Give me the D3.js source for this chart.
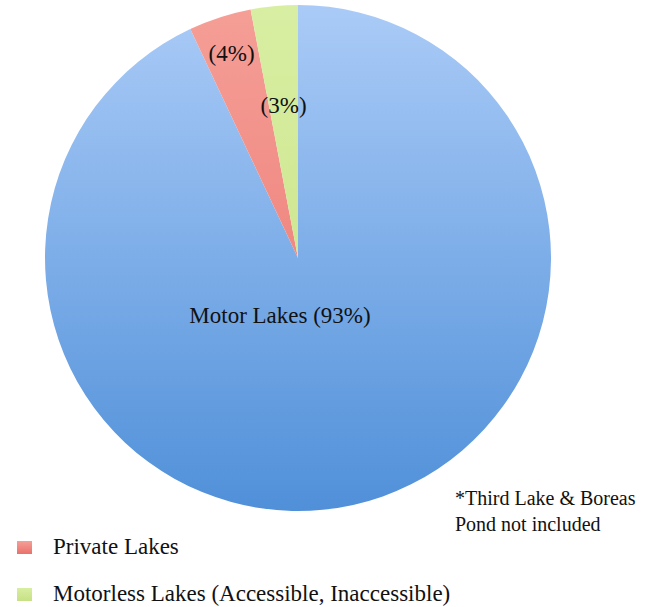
<!DOCTYPE html>
<html>
<head>
<meta charset="utf-8">
<script src="https://cdn.jsdelivr.net/npm/d3@7/dist/d3.min.js"></script>
<style>
  html, body { margin: 0; padding: 0; background: #ffffff; }
  svg { display: block; }
  text { font-family: "Liberation Serif", "Times New Roman", serif; fill: #111; }
</style>
</head>
<body>
<svg id="chart" width="654" height="607"></svg>
<script>
// Lake categories and their share of the total (percent)
const categories = ["Motor Lakes", "Private Lakes", "Motorless Lakes (Accessible, Inaccessible)"];
const shares = [93, 4, 3];
const sliceLabels = ["Motor Lakes (93%)", "(4%)", "(3%)"];
const legendItems = ["Private Lakes", "Motorless Lakes (Accessible, Inaccessible)"];
const noteLines = ["*Third Lake & Boreas", "Pond not included"];

// Top and bottom colours of each slice's vertical gradient
const gradTop = ["#aacbf7", "#f59f97", "#d8eea2"];
const gradBottom = ["#5090d9", "#e9716b", "#c6e184"];

const svg = d3.select("#chart");
const cx = 298, cy = 258, radius = 253;

const defs = svg.append("defs");
categories.forEach((c, i) => {
  const g = defs.append("linearGradient")
    .attr("id", "grad" + i)
    .attr("gradientUnits", "userSpaceOnUse")
    .attr("x1", 0).attr("y1", -radius)
    .attr("x2", 0).attr("y2", radius);
  g.append("stop").attr("offset", "0%").attr("stop-color", gradTop[i]);
  g.append("stop").attr("offset", "100%").attr("stop-color", gradBottom[i]);
});
// legend swatch gradients
[1, 2].forEach(i => {
  const g = defs.append("linearGradient")
    .attr("id", "sw" + i).attr("x1", 0).attr("y1", 0).attr("x2", 0).attr("y2", 1);
  g.append("stop").attr("offset", "0%").attr("stop-color", gradTop[i]);
  g.append("stop").attr("offset", "100%").attr("stop-color", gradBottom[i]);
});

const pie = d3.pie().sort(null).value(d => d)
  .startAngle(0).endAngle(2 * Math.PI);
const arcs = pie(shares);
const arc = d3.arc().innerRadius(0).outerRadius(radius);

const g = svg.append("g").attr("transform", `translate(${cx},${cy})`);

g.selectAll("path.slice")
  .data(arcs)
  .join("path")
  .attr("class", "slice")
  .attr("d", arc)
  .attr("fill", (d, i) => `url(#grad${i})`);

// slice labels: the two thin slices are labelled along their bisector,
// the large slice just below the pie centre
const labelRadius = [0, 215, 153];
function labelXY(d, i) {
  if (i === 0) return [-18, 57];
  const r = labelRadius[i];
  return d3.arc().innerRadius(r).outerRadius(r).centroid(d);
}
g.selectAll("text.slabel")
  .data(arcs)
  .join("text")
  .attr("class", "slabel")
  .attr("text-anchor", "middle")
  .attr("dominant-baseline", "central")
  .attr("font-size", 23)
  .attr("x", (d, i) => labelXY(d, i)[0])
  .attr("y", (d, i) => labelXY(d, i)[1])
  .text((d, i) => sliceLabels[i]);

// footnote
svg.append("text")
  .attr("x", 455).attr("y", 505)
  .attr("font-size", 20)
  .selectAll("tspan")
  .data(noteLines)
  .join("tspan")
  .attr("x", 455)
  .attr("dy", (d, i) => i === 0 ? 0 : 26)
  .text(d => d);

// legend
const legend = svg.append("g");
const rowY = d3.scalePoint().domain(legendItems).range([547, 594]);
legendItems.forEach((name, k) => {
  const y = rowY(name);
  legend.append("rect")
    .attr("x", 17).attr("y", y - 6)
    .attr("width", 15).attr("height", 13)
    .attr("fill", `url(#sw${k + 1})`);
  legend.append("text")
    .attr("x", 53).attr("y", y + 7)
    .attr("font-size", 23)
    .text(name);
});
</script>
</body>
</html>
